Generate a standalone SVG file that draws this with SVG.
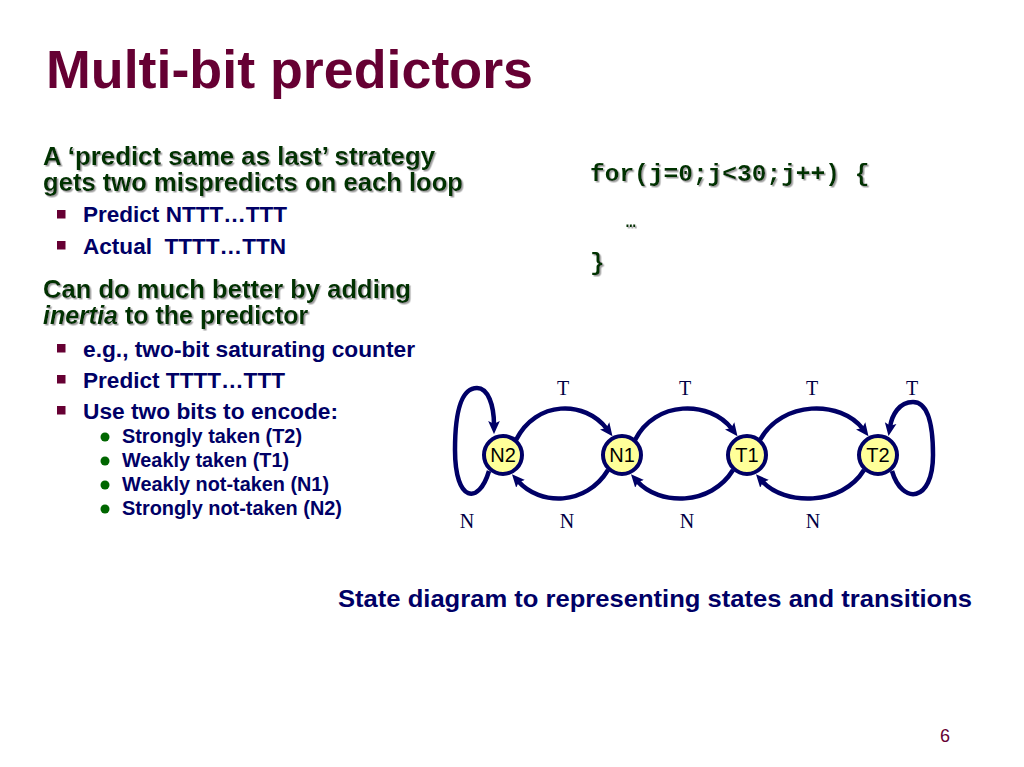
<svg xmlns="http://www.w3.org/2000/svg" width="1024" height="767" viewBox="0 0 1024 767">
<defs>
<style>
.title{font-family:"Liberation Sans",Arial,sans-serif;font-weight:bold;font-size:54px;fill:#660033}
.h{font-family:"Liberation Sans",Arial,sans-serif;font-weight:bold;font-size:25px;fill:#003300;filter:url(#sh)}
.b1{font-family:"Liberation Sans",Arial,sans-serif;font-weight:bold;font-size:22px;fill:#000066}
.b2{font-family:"Liberation Sans",Arial,sans-serif;font-weight:bold;font-size:19.5px;fill:#000066}
.code{font-family:"Liberation Mono","Courier New",monospace;font-weight:bold;font-size:24.5px;fill:#003300;filter:url(#sh)}
.cap{font-family:"Liberation Sans",Arial,sans-serif;font-weight:bold;font-size:24px;fill:#000066}
.pg{font-family:"Liberation Sans",Arial,sans-serif;font-size:18px;fill:#660033}
.sq{fill:#660033}
.dot{fill:#006600}
.edge{fill:none;stroke:#000066;stroke-width:4.5;marker-end:url(#ah)}
.node circle{fill:#ffff99;stroke:#000066;stroke-width:4}
.node text{font-family:"Liberation Sans",Arial,sans-serif;font-size:20px;fill:#000000;text-anchor:middle}
.lbl{font-family:"Liberation Serif","Times New Roman",serif;font-size:20px;fill:#000044;text-anchor:middle}
</style>
<filter id="sh" x="-5%" y="-20%" width="110%" height="140%">
<feDropShadow dx="1.5" dy="1.5" stdDeviation="0.4" flood-color="#a0a0a0" flood-opacity="1"/>
</filter>
<marker id="ah" viewBox="0 0 10 10" refX="3" refY="5" markerWidth="13" markerHeight="13" markerUnits="userSpaceOnUse" orient="auto">
<path d="M0,0.5 L10,5 L0,9.5 L2,5 z" fill="#000066"/>
</marker>
</defs>
<rect width="1024" height="767" fill="#ffffff"/>

<g id="title"><text class="title" x="46" y="88" textLength="487" lengthAdjust="spacingAndGlyphs">Multi-bit predictors</text></g>

<g id="left-text">
<text class="h" x="43" y="165" textLength="392" lengthAdjust="spacingAndGlyphs">A ‘predict same as last’ strategy</text>
<text class="h" x="43" y="191" textLength="420" lengthAdjust="spacingAndGlyphs">gets two mispredicts on each loop</text>
<rect class="sq" x="57" y="210" width="8.5" height="8.5"/>
<text class="b1" x="83" y="222" textLength="204" lengthAdjust="spacingAndGlyphs">Predict NTTT…TTT</text>
<rect class="sq" x="57" y="241" width="8.5" height="8.5"/>
<text class="b1" x="83" y="254" textLength="203" lengthAdjust="spacingAndGlyphs" xml:space="preserve">Actual  TTTT…TTN</text>
<text class="h" x="43" y="298" textLength="368" lengthAdjust="spacingAndGlyphs">Can do much better by adding</text>
<text class="h" x="43" y="324"><tspan font-style="italic">inertia</tspan> to the predictor</text>
<rect class="sq" x="57" y="344" width="8.5" height="8.5"/>
<text class="b1" x="83" y="357" textLength="332" lengthAdjust="spacingAndGlyphs">e.g., two-bit saturating counter</text>
<rect class="sq" x="57" y="375" width="8.5" height="8.5"/>
<text class="b1" x="83" y="388" textLength="202" lengthAdjust="spacingAndGlyphs">Predict TTTT…TTT</text>
<rect class="sq" x="57" y="406" width="8.5" height="8.5"/>
<text class="b1" x="83" y="419" textLength="255" lengthAdjust="spacingAndGlyphs">Use two bits to encode:</text>
<circle class="dot" cx="105" cy="437" r="4.5"/>
<text class="b2" x="122" y="443" textLength="180" lengthAdjust="spacingAndGlyphs">Strongly taken (T2)</text>
<circle class="dot" cx="105" cy="461" r="4.5"/>
<text class="b2" x="122" y="467" textLength="167" lengthAdjust="spacingAndGlyphs">Weakly taken (T1)</text>
<circle class="dot" cx="105" cy="485" r="4.5"/>
<text class="b2" x="122" y="491" textLength="207" lengthAdjust="spacingAndGlyphs">Weakly not-taken (N1)</text>
<circle class="dot" cx="105" cy="509" r="4.5"/>
<text class="b2" x="122" y="515" textLength="220" lengthAdjust="spacingAndGlyphs">Strongly not-taken (N2)</text>
</g>

<g id="code">
<text class="code" x="590" y="181">for(j=0;j&lt;30;j++) {</text>
<text class="code" x="626" y="227" style="font-size:16px">…</text>
<text class="code" x="590" y="270">}</text>
</g>

<g id="connectors">
<path class="edge" d="M516,440 C536,400 585,400 607,429"/>
<path class="edge" d="M635,440 C655,400 710,400 732,429"/>
<path class="edge" d="M760,440 C782,400 841,400 863,429"/>
<path class="edge" d="M733,470 C711,506 659,506 637,481"/>
<path class="edge" d="M864,470 C842,506 784,506 762,481"/>
<path class="edge" d="M608,470 C586,506 540,506 518,481"/>
<path class="edge" d="M489,471 C479,505 455,503 455,450 C455,400 466,388 477,388 C488,388 494,405 494,425"/>
<path class="edge" d="M892,471 C902,505 933,503 933,455 C933,410 922,402 913,402 C899,402 892,415 890,427"/>
<text class="lbl" x="563" y="395">T</text>
<text class="lbl" x="685" y="395">T</text>
<text class="lbl" x="812" y="395">T</text>
<text class="lbl" x="912" y="395">T</text>
<text class="lbl" x="467" y="528">N</text>
<text class="lbl" x="567" y="528">N</text>
<text class="lbl" x="687" y="528">N</text>
<text class="lbl" x="813" y="528">N</text>
</g>

<g id="N2" class="node"><circle cx="503" cy="455" r="19"/><text x="503" y="462">N2</text></g>
<g id="N1" class="node"><circle cx="622" cy="455" r="19"/><text x="622" y="462">N1</text></g>
<g id="T1" class="node"><circle cx="747" cy="455" r="19"/><text x="747" y="462">T1</text></g>
<g id="T2" class="node"><circle cx="878" cy="455" r="19"/><text x="878" y="462">T2</text></g>

<g id="caption"><text class="cap" x="338" y="607" textLength="634" lengthAdjust="spacingAndGlyphs">State diagram to representing states and transitions</text></g>
<g id="page"><text class="pg" x="940" y="742">6</text></g>
</svg>
